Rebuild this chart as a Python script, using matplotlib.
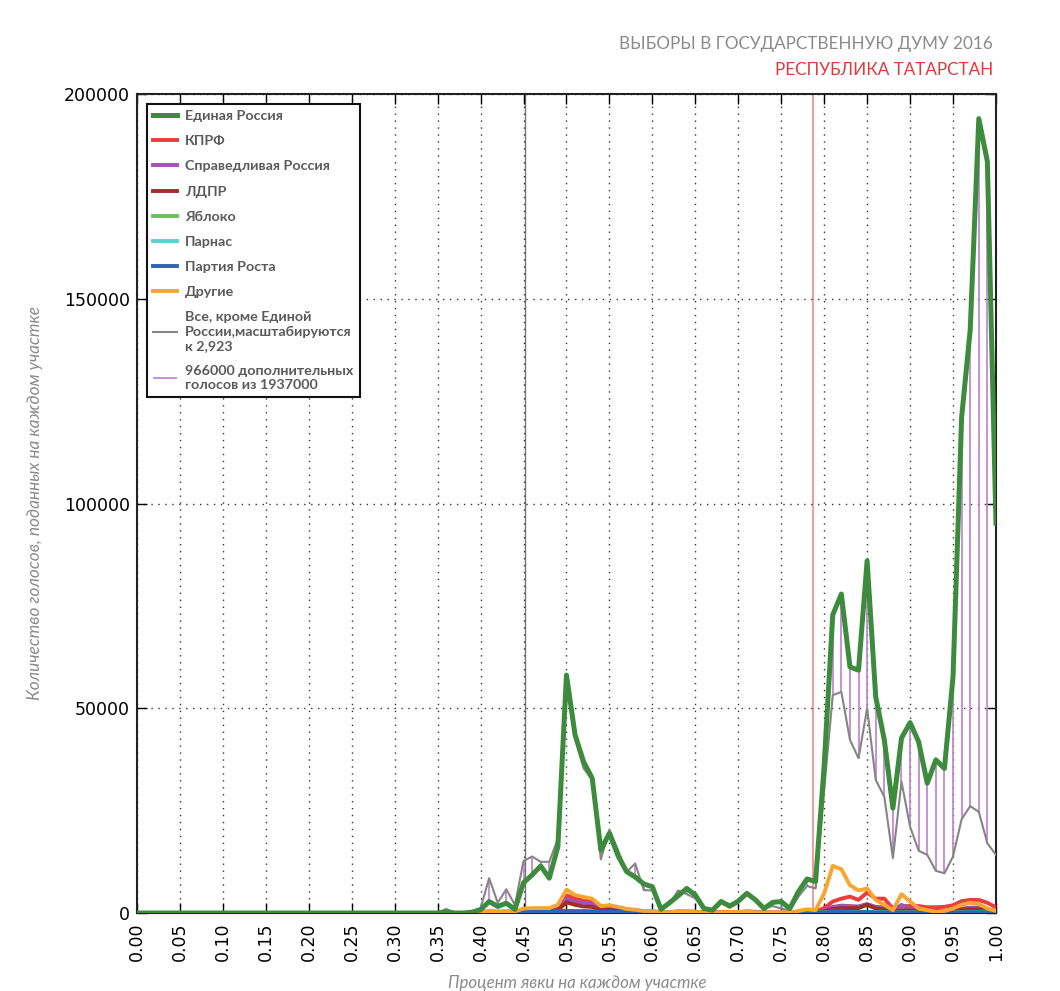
import numpy as np
import matplotlib
matplotlib.use("Agg")
import matplotlib.pyplot as plt

# turnout bins 0.00 .. 1.00, step 0.01 ; everything below 0.35 is zero
lead = np.zeros(35)
turnout = np.round(np.arange(0, 101) * 0.01, 2)

# values for bins 0.35 .. 1.00
er = [0, 300, 0, 0, 200,
      800, 2800, 1600, 2400, 900, 7400, 9300, 11500, 8500, 16200,
      58100, 43500, 36900, 32900, 15400, 19500, 14000, 10100, 8800, 7100,
      6400, 900, 2500, 4200, 6000, 4400, 1100, 700, 2800, 1700,
      2900, 4800, 3200, 1100, 2600, 2800, 1100, 5200, 8300, 7700,
      36000, 72800, 77900, 60100, 59300, 86000, 52800, 42300, 25600, 42700,
      46500, 41800, 31700, 37400, 35300, 57700, 121000, 142400, 194000, 183500,
      95200]
scaled_rest = [0, 1000, 0, 0, 300,
               1200, 8500, 2500, 5800, 1950, 12700, 13800, 12500, 12500, 18200,
               56900, 42700, 35300, 32500, 13100, 20300, 15400, 10000, 12100, 5600,
               5500, 900, 2300, 5500, 4600, 3600, 900, 700, 2500, 1300,
               2500, 4600, 3200, 1100, 1700, 1100, 600, 4000, 6600, 6000,
               30000, 53200, 54000, 42300, 37800, 50000, 32500, 28400, 13400, 32100,
               21100, 15200, 14200, 10300, 9700, 13800, 22900, 26100, 24700, 17000,
               14200]
kprf = [0, 100, 0, 0, 0,
        200, 400, 300, 300, 200, 700, 800, 800, 800, 1400,
        4300, 3600, 3200, 3000, 1300, 1500, 1100, 800, 700, 400,
        400, 100, 200, 400, 400, 300, 100, 100, 200, 100,
        200, 400, 300, 100, 100, 100, 100, 300, 400, 400,
        1200, 2800, 3500, 4000, 3200, 5000, 3500, 3500, 1100, 1700,
        1700, 1700, 1400, 1400, 1500, 1900, 2900, 3200, 3200, 2500,
        1400]
sr = [0, 50, 0, 0, 0,
      100, 200, 150, 150, 100, 400, 500, 500, 500, 900,
      3500, 2800, 2500, 2300, 900, 1100, 800, 500, 500, 300,
      300, 100, 100, 200, 200, 200, 100, 100, 100, 100,
      100, 200, 200, 100, 100, 100, 100, 200, 300, 300,
      600, 1500, 1800, 1700, 1600, 2200, 1500, 1400, 500, 2000,
      900, 700, 600, 500, 500, 700, 1100, 1300, 1300, 900,
      500]
ldpr = [0, 50, 0, 0, 0,
        100, 150, 100, 100, 100, 300, 400, 400, 400, 700,
        2600, 2000, 1600, 1500, 600, 800, 600, 400, 400, 200,
        200, 50, 100, 150, 150, 100, 50, 50, 100, 50,
        100, 150, 100, 50, 50, 50, 50, 100, 200, 200,
        400, 1000, 1200, 1200, 1200, 2000, 1100, 900, 300, 700,
        600, 500, 400, 400, 400, 500, 800, 900, 900, 600,
        300]
yabloko = [0, 0, 0, 0, 0,
           50, 100, 50, 50, 50, 150, 200, 200, 200, 300,
           500, 400, 400, 350, 200, 200, 150, 100, 100, 80,
           80, 20, 50, 80, 80, 60, 20, 20, 50, 30,
           50, 80, 60, 20, 40, 40, 20, 80, 120, 120,
           150, 300, 300, 250, 250, 300, 200, 200, 80, 150,
           150, 120, 100, 100, 100, 120, 200, 220, 220, 150,
           80]
parnas = [0, 0, 0, 0, 0,
          20, 30, 20, 20, 20, 60, 80, 80, 80, 100,
          150, 120, 120, 100, 60, 60, 50, 40, 40, 30,
          30, 10, 20, 30, 30, 20, 10, 10, 20, 10,
          20, 30, 20, 10, 10, 10, 10, 30, 40, 40,
          60, 100, 100, 90, 90, 100, 70, 70, 30, 50,
          50, 40, 40, 30, 30, 40, 60, 70, 70, 50,
          30]
rost = [0, 0, 0, 0, 0,
        50, 100, 50, 80, 50, 300, 400, 400, 400, 450,
        500, 450, 450, 400, 300, 300, 250, 150, 120, 80,
        80, 20, 50, 80, 80, 60, 20, 20, 50, 30,
        50, 80, 60, 20, 40, 40, 20, 60, 100, 100,
        150, 250, 250, 200, 200, 250, 150, 150, 60, 120,
        120, 100, 80, 80, 80, 100, 150, 180, 180, 120,
        60]
other = [0, 300, 0, 0, 0,
         300, 500, 400, 500, 400, 1100, 1200, 1200, 1200, 2000,
         5700, 4400, 3900, 3500, 1700, 1900, 1500, 1000, 800, 500,
         500, 200, 200, 400, 300, 300, 100, 100, 200, 200,
         300, 300, 200, 100, 200, 200, 100, 500, 900, 700,
         4800, 11500, 10700, 6800, 5500, 6000, 3200, 2000, 700, 4600,
         2800, 1100, 700, 300, 500, 1100, 2000, 2500, 2200, 1100,
         500]

parties = [
    ("Единая Россия", er, "#3d8b3d"),
    ("КПРФ", kprf, "#ee3b3b"),
    ("Справедливая Россия", sr, "#a152b5"),
    ("ЛДПР", ldpr, "#a52a2a"),
    ("Яблоко", yabloko, "#6cbf5a"),
    ("Парнас", parnas, "#5fcfcf"),
    ("Партия Роста", rost, "#2e64b4"),
    ("Другие", other, "#f9a530"),
]

mean_turnout = 0.7865
mid_line = 0.4517

txt_font = ["Lato", "DejaVu Sans"]

fig = plt.figure(figsize=(10.6, 9.91), dpi=100)
ax = fig.add_axes([0.1292, 0.0787, 0.8104, 0.8264])

for i, (name, vals, col) in enumerate(parties):
    y = np.concatenate([lead, vals])
    ax.plot(turnout, y, color=col, lw=3.6 if i == 0 else 2.8,
            label=name, zorder=5 if i == 0 else 4)

er_full = np.concatenate([lead, er])
rest_full = np.concatenate([lead, scaled_rest])
ax.plot(turnout, rest_full, color="#858585", lw=1.5, zorder=3,
        label="Все, кроме Единой\nРоссии,масштабируются\nк 2,923")
ax.vlines(turnout, np.minimum(er_full, rest_full), np.maximum(er_full, rest_full),
          color="#bf7fcf", lw=1.2, zorder=2,
          label="966000 дополнительных\nголосов из 1937000")

ax.axvline(mean_turnout, color="#f08a8a", lw=1.2, zorder=1)
ax.axvline(mid_line, color="#777777", lw=1.0, zorder=1)

ax.set_xlim(0, 1.0)
ax.set_ylim(0, 200000)
ax.set_xticks(np.arange(0, 1.0001, 0.05))
ax.set_xticklabels([f"{v:.2f}" for v in np.arange(0, 1.0001, 0.05)],
                   rotation=90, fontsize=12.5)
ax.set_yticks([0, 50000, 100000, 150000, 200000])
ax.tick_params(axis="y", labelsize=12.5, pad=5)
ax.tick_params(axis="x", pad=7)
ax.tick_params(direction="in", top=True, right=True, length=7, width=1)
ax.grid(True, ls=(0, (1, 4)), color="#333333", lw=1)
for s in ax.spines.values():
    s.set_linewidth(1.5)
    s.set_color("#222222")

leg = ax.legend(loc="upper left",
                prop={"family": txt_font, "size": 10.3, "weight": "bold"},
                labelspacing=0.92, handlelength=1.7, handletextpad=0.55,
                borderpad=0.45, fancybox=False, framealpha=1,
                edgecolor="#111111", bbox_to_anchor=(0.003, 0.997))
leg.get_frame().set_linewidth(1.5)
for t in leg.get_texts():
    t.set_color("#5a5a5a")
    t.set_linespacing(1.2)

fig.text(0.937, 0.956, "ВЫБОРЫ В ГОСУДАРСТВЕННУЮ ДУМУ 2016", ha="right", va="center",
         fontsize=12.3, color="#8a8a8a", family=txt_font)
fig.text(0.937, 0.929, "РЕСПУБЛИКА ТАТАРСТАН", ha="right", va="center",
         fontsize=12.3, color="#e0393e", family=txt_font)
fig.text(0.033, 0.492, "Количество голосов, поданных на каждом участке", rotation=90,
         ha="center", va="center", fontsize=12.4, color="#8a8a8a",
         style="italic", family=txt_font)
fig.text(0.545, 0.008, "Процент явки на каждом участке", ha="center", va="center",
         fontsize=12.2, color="#8a8a8a", style="italic", family=txt_font)

fig.savefig("out.png", dpi=100)
